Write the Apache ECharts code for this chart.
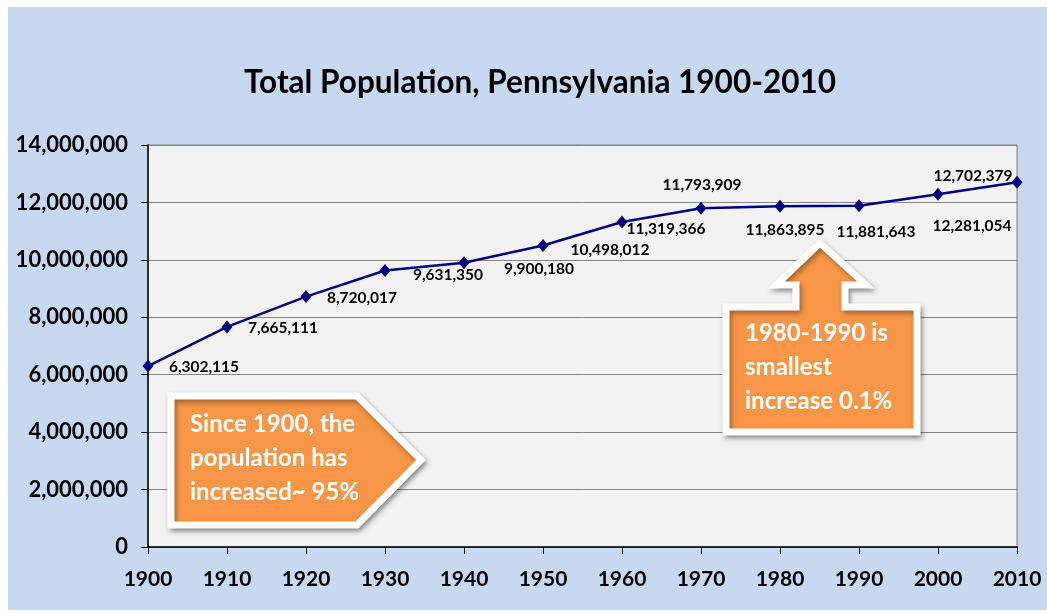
<!DOCTYPE html>
<html>
<head>
<meta charset="utf-8">
<script src="https://cdn.jsdelivr.net/npm/echarts@6/dist/echarts.min.js"></script>
<style>
  html, body { margin: 0; padding: 0; background: #fff; }
  #main { width: 1047px; height: 613px; }
</style>
</head>
<body>
<div id="main"></div>
<script>
// data
var years = ['1900', '1910', '1920', '1930', '1940', '1950', '1960', '1970', '1980', '1990', '2000', '2010'];
var population = [6302115, 7665111, 8720017, 9631350, 9900180, 10498012, 11319366, 11793909, 11863895, 11881643, 12281054, 12702379];
var yTicks = [0, 2000000, 4000000, 6000000, 8000000, 10000000, 12000000, 14000000];

// where each value label sits relative to its point (style only)
var labelOffsets = [[56, 1], [56, 1], [56, 1], [63, 5], [75, 6], [67, 4], [44, 7], [1, -23], [5, 24], [17, 26], [34, 32], [-44, -6]];

var chart = echarts.init(document.getElementById('main'));

function fmt(v) {
  return v.toString().replace(/\B(?=(\d{3})+(?!\d))/g, ',');
}

var points = population.map(function (v, i) {
  return {
    value: v,
    label: { offset: labelOffsets[i] }
  };
});

var orange = '#f79646';
var calloutShadow = { shadowBlur: 5, shadowOffsetX: 2, shadowOffsetY: 3, shadowColor: 'rgba(0,0,0,0.35)' };

var options = {
  backgroundColor: '#ffffff',
  title: {
    text: 'Total Population, Pennsylvania 1900-2010',
    left: 535,
    top: 62,
    textAlign: 'center',
    textStyle: { fontFamily: 'Lato', fontWeight: 'bold', fontSize: 31.5, color: '#000' }
  },
  grid: {
    left: 148, right: 30, top: 145, bottom: 66,
    show: true,
    backgroundColor: '#f2f2f2',
    borderColor: '#7f7f7f',
    borderWidth: 1
  },
  xAxis: {
    type: 'category',
    data: years,
    boundaryGap: false,
    axisLine: { lineStyle: { color: '#000', width: 1.5 } },
    axisTick: { show: true, length: 7, alignWithLabel: true, lineStyle: { color: '#000' } },
    axisLabel: { margin: 22, fontFamily: 'Lato', fontWeight: 'bold', fontSize: 21, color: '#000' },
    splitLine: { show: false }
  },
  yAxis: {
    type: 'value',
    min: yTicks[0],
    max: yTicks[yTicks.length - 1],
    interval: yTicks[1] - yTicks[0],
    axisLine: { show: true, lineStyle: { color: '#000', width: 1.5 } },
    axisTick: { show: true, length: 7, lineStyle: { color: '#000' } },
    axisLabel: {
      margin: 20, fontFamily: 'Lato', fontWeight: 'bold', fontSize: 22, color: '#000',
      formatter: function (v) { return fmt(v); }
    },
    splitLine: { show: true, lineStyle: { color: '#868686', width: 1 } }
  },
  series: [{
    type: 'line',
    data: points,
    symbol: 'diamond',
    symbolSize: [11, 13],
    lineStyle: { color: '#000080', width: 2.5 },
    itemStyle: { color: '#000080' },
    label: {
      show: true,
      position: 'inside',
      align: 'center',
      verticalAlign: 'middle',
      fontFamily: 'Lato',
      fontWeight: 'bold',
      fontSize: 15.5,
      color: '#000',
      formatter: function (p) { return fmt(p.value); }
    },
    animation: false
  }],
  graphic: [
    // light blue slide background
    {
      type: 'rect', z: -100, silent: true,
      shape: { x: 8, y: 7, width: 1039, height: 603 },
      style: { fill: '#c6d9f1' }
    },
    // right-pointing callout
    {
      type: 'polygon', z: 100,
      shape: { points: [[171, 396], [357, 396], [421, 460], [357, 525], [171, 525]] },
      style: Object.assign({ fill: orange, stroke: '#fff', lineWidth: 7, lineJoin: 'miter' }, calloutShadow)
    },
    {
      type: 'text', z: 101, left: 190, top: 407,
      style: {
        text: 'Since 1900, the\npopulation has\nincreased~ 95%',
        fill: '#fff', fontFamily: 'Lato', fontWeight: 'bold', fontSize: 24, lineHeight: 34
      }
    },
    // up-arrow callout
    {
      type: 'polygon', z: 100,
      shape: { points: [[726, 307], [796, 307], [796, 285], [776, 285], [820, 243], [866, 285], [845, 285], [845, 307], [917, 307], [917, 432], [726, 432]] },
      style: Object.assign({ fill: orange, stroke: '#fff', lineWidth: 7, lineJoin: 'miter' }, calloutShadow)
    },
    {
      type: 'text', z: 101, left: 745, top: 316,
      style: {
        text: '1980-1990 is\nsmallest\nincrease 0.1%',
        fill: '#fff', fontFamily: 'Lato', fontWeight: 'bold', fontSize: 24, lineHeight: 34
      }
    }
  ]
};

chart.setOption(options);
</script>
</body>
</html>
